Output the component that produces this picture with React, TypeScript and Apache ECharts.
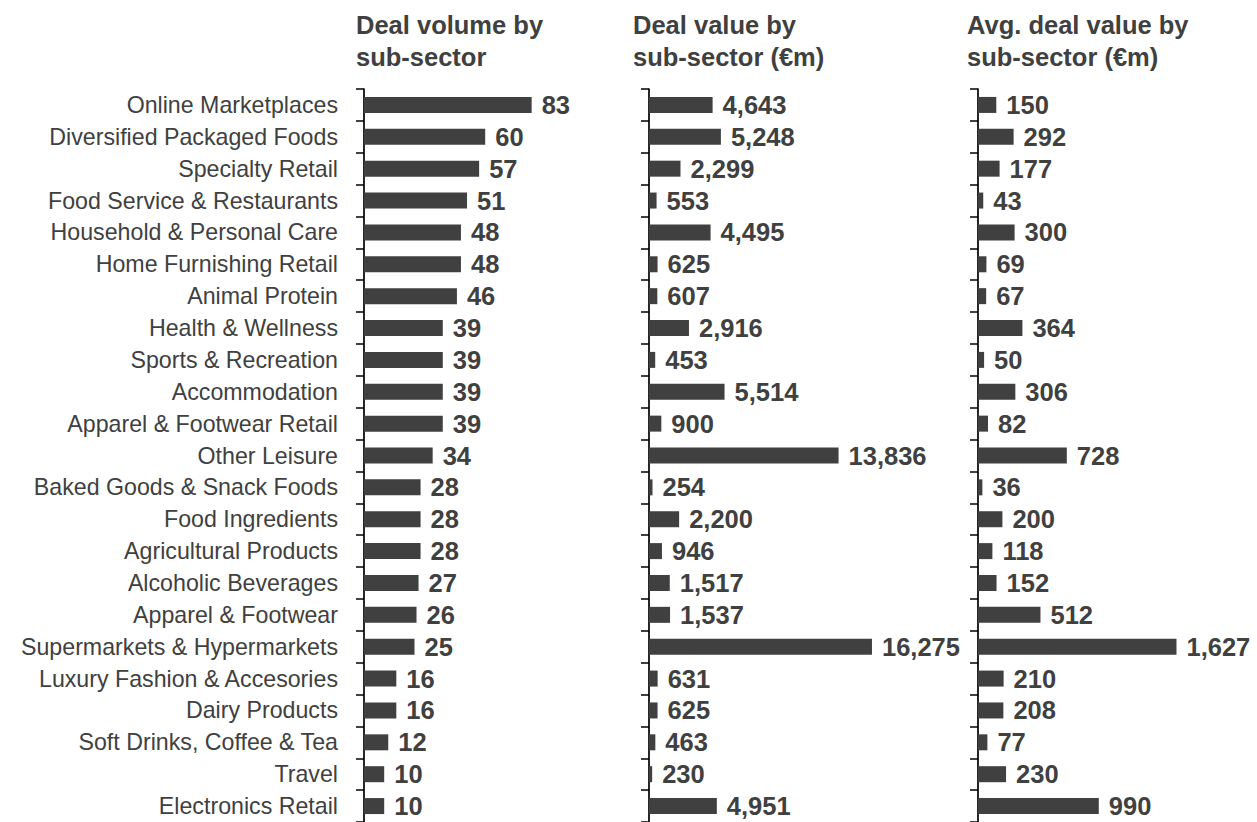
import React, { useEffect, useRef } from "react";
import * as echarts from "echarts";

const categories = [
  "Online Marketplaces",
  "Diversified Packaged Foods",
  "Specialty Retail",
  "Food Service & Restaurants",
  "Household & Personal Care",
  "Home Furnishing Retail",
  "Animal Protein",
  "Health & Wellness",
  "Sports & Recreation",
  "Accommodation",
  "Apparel & Footwear Retail",
  "Other Leisure",
  "Baked Goods & Snack Foods",
  "Food Ingredients",
  "Agricultural Products",
  "Alcoholic Beverages",
  "Apparel & Footwear",
  "Supermarkets & Hypermarkets",
  "Luxury Fashion & Accesories",
  "Dairy Products",
  "Soft Drinks, Coffee & Tea",
  "Travel",
  "Electronics Retail",
];

const dealVolume = [83, 60, 57, 51, 48, 48, 46, 39, 39, 39, 39, 34, 28, 28, 28, 27, 26, 25, 16, 16, 12, 10, 10];
const dealValue = [4643, 5248, 2299, 553, 4495, 625, 607, 2916, 453, 5514, 900, 13836, 254, 2200, 946, 1517, 1537, 16275, 631, 625, 463, 230, 4951];
const avgDealValue = [150, 292, 177, 43, 300, 69, 67, 364, 50, 306, 82, 728, 36, 200, 118, 152, 512, 1627, 210, 208, 77, 230, 990];

const titles = [
  "Deal volume by\nsub-sector",
  "Deal value by\nsub-sector (€m)",
  "Avg. deal value by\nsub-sector (€m)",
];

const DARK = "#404040";
const FONT = "Arial, 'Liberation Sans', sans-serif";

export default function App() {
  const ref = useRef<HTMLDivElement>(null);
  useEffect(() => {
    if (!ref.current) return;
    const chart = echarts.init(ref.current, undefined, { renderer: "svg" });
    const gridDefs = [
      { left: 364, width: 202, max: 100 },
      { left: 649, width: 274, max: 20000 },
      { left: 978, width: 244, max: 2000 },
    ];
    const titleLefts = [356, 633, 967];
    const data = [dealVolume, dealValue, avgDealValue];
    const fmt = (v: number) => v.toLocaleString("en-US");

    chart.setOption({
      animation: false,
      backgroundColor: "#ffffff",
      textStyle: { fontFamily: FONT },
      title: titles.map((t, i) => ({
        text: t,
        left: titleLefts[i],
        top: 9,
        padding: 0,
        textStyle: {
          fontFamily: FONT,
          fontSize: 25.5,
          fontWeight: "bold",
          color: DARK,
          lineHeight: 32,
        },
      })),
      grid: gridDefs.map((g) => ({
        left: g.left,
        width: g.width,
        top: 89,
        height: 736,
        containLabel: false,
      })),
      xAxis: gridDefs.map((g, i) => ({
        type: "value",
        gridIndex: i,
        min: 0,
        max: g.max,
        show: false,
        splitLine: { show: false },
      })),
      yAxis: gridDefs.map((g, i) => ({
        type: "category",
        gridIndex: i,
        data: categories,
        inverse: true,
        axisLine: { show: true, lineStyle: { color: "#000000", width: 1.7 } },
        axisTick: { show: true, length: 8, lineStyle: { color: "#000000", width: 1.5 } },
        axisLabel: {
          show: i === 0,
          margin: 26,
          fontFamily: FONT,
          fontSize: 23.2,
          color: DARK,
        },
        splitLine: { show: false },
      })),
      series: data.map((d, i) => ({
        type: "bar",
        xAxisIndex: i,
        yAxisIndex: i,
        data: d,
        barWidth: 16,
        itemStyle: { color: DARK },
        label: {
          show: true,
          position: "right",
          distance: 10,
          formatter: (p: any) => fmt(p.value),
          fontFamily: FONT,
          fontSize: 25.5,
          fontWeight: "bold",
          color: DARK,
        },
      })),
    });
    return () => chart.dispose();
  }, []);
  return (
    <div
      ref={ref}
      style={{ position: "fixed", left: 0, top: 0, width: 1257, height: 822, background: "#fff" }}
    />
  );
}
